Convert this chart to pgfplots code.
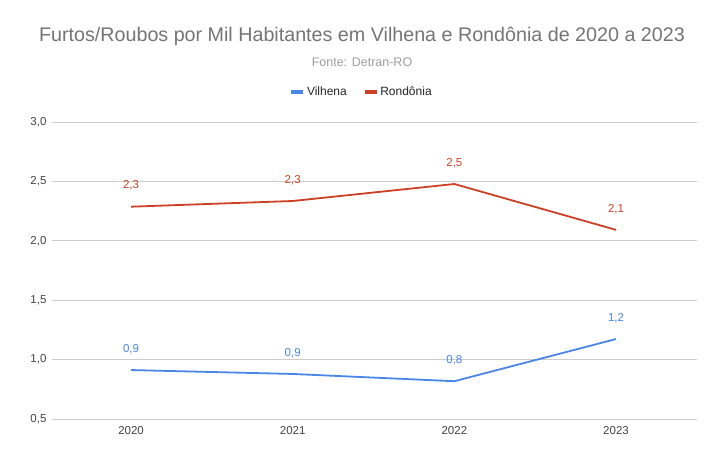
\documentclass[border=0pt]{standalone}
\usepackage{fontspec}
\setmainfont{Liberation Sans}
\usepackage{pgfplots}
\pgfplotsset{compat=1.18}
\definecolor{cblue}{HTML}{4A86E8}
\definecolor{cred}{HTML}{CC4125}
\definecolor{ctitle}{HTML}{757575}
\definecolor{csub}{HTML}{9E9E9E}
\definecolor{ctick}{HTML}{444444}
\definecolor{cgrid}{HTML}{CCCCCC}
\begin{document}
\begin{tikzpicture}[x=1pt,y=1pt]
\fill[white] (0,0) rectangle (721,462);
\node[text=ctitle, font=\fontsize{19.7}{22}\selectfont] at (362,426) {Furtos/Roubos por Mil Habitantes em Vilhena e Rondônia de 2020 a 2023};
\node[text=csub, font=\fontsize{12.5}{14}\selectfont] at (362,400) {Fonte: Detran-RO};
\begin{axis}[
  at={(52pt,43pt)}, anchor=south west,
  scale only axis, width=645pt, height=297pt,
  xmin=2019.511, xmax=2023.501,
  ymin=0.5, ymax=3.0,
  xtick={2020,2021,2022,2023},
  xticklabels={2020,2021,2022,2023},
  ytick={0.5,1.0,1.5,2.0,2.5,3.0},
  yticklabel style={/pgf/number format/.cd, use comma, fixed, fixed zerofill, precision=1},
  /pgf/number format/assume math mode=true,
  ticklabel style={font=\fontsize{11.5}{13}\selectfont, text=ctick},
  major tick length=0pt,
  axis line style={draw=none},
  ymajorgrids, grid style={cgrid, line width=0.8pt},
  yticklabel shift=2pt,
  xticklabel shift=4pt,
  legend columns=2,
  legend style={at={(0.480,1.101)}, anchor=center, draw=none, fill=none,
    font=\fontsize{12}{14}\selectfont, text=black!85,
    /tikz/every even column/.append style={column sep=14pt}},
  legend image code/.code={\draw[#1, line width=3.5pt] (0pt,0pt) -- (12pt,0pt);},
  nodes near coords,
  every node near coord/.append style={anchor=center, yshift=21pt, font=\fontsize{11.5}{13}\selectfont},
  nodes near coords style={/pgf/number format/.cd, use comma, fixed, fixed zerofill, precision=1},
]
\addplot[cblue, line width=1.8pt, mark=none] coordinates {
 (2020,0.912) (2021,0.879) (2022,0.818) (2023,1.173)};
\addlegendentry{Vilhena}
\addplot[cred, line width=1.8pt, mark=none] coordinates {
 (2020,2.287) (2021,2.335) (2022,2.478) (2023,2.092)};
\addlegendentry{Rondônia}
\end{axis}
\end{tikzpicture}
\end{document}
